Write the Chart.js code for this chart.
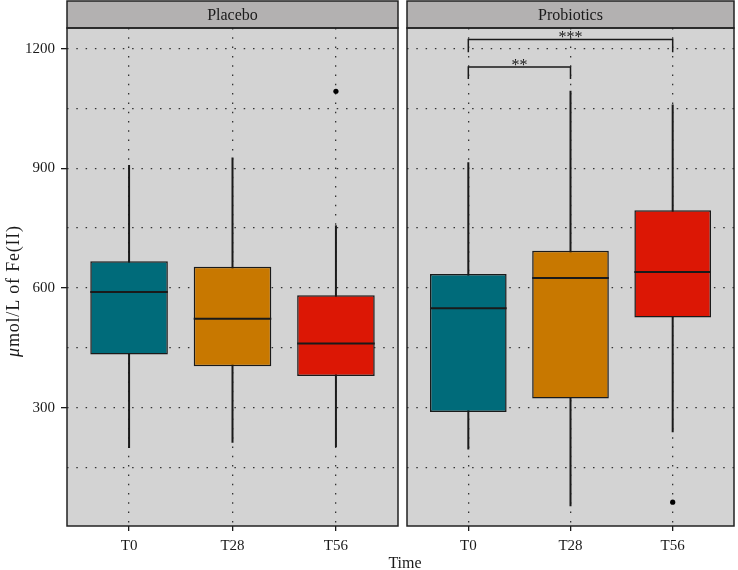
<!DOCTYPE html>
<html>
<head>
<meta charset="utf-8">
<script src="https://cdn.jsdelivr.net/npm/chart.js@4.4.0/dist/chart.umd.min.js"></script>
<style>
  html, body { margin: 0; padding: 0; background: #fff; }
  #wrap { position: relative; width: 738px; height: 570px; overflow: hidden; }
  #wrap canvas { position: absolute; top: 0; }
  #placebo { left: 0; }
  #probiotics { left: 403px; }
  #x-title {
    position: absolute; top: 554px; left: 405px; transform: translateX(-50%);
    font: 16px 'Liberation Serif', 'DejaVu Serif', serif; color: #1a1a1a; white-space: nowrap;
  }
</style>
</head>
<body>
<div id="wrap">
  <canvas id="placebo" width="402" height="570"></canvas>
  <canvas id="probiotics" width="335" height="570"></canvas>
  <div id="x-title">Time</div>
</div>
<script>
// Time points and box fill colours
const times = ['T0', 'T28', 'T56'];
const boxColors = ['#006b7a', '#c87800', '#dc1705'];

// y axis: labelled ticks and the minor grid between them
const yTicks = [300, 600, 900, 1200];
const yMinor = [150, 450, 750, 1050];

// Placebo: box-plot summaries per time point
const placeboLow = [199, 212, 201];
const placeboQ1 = [433, 404, 379];
const placeboMedian = [590, 523, 461];
const placeboQ3 = [667, 653, 582];
const placeboHigh = [908, 927, 757];
const placeboOutTime = ['T56'];
const placeboOutValue = [1093];

// Probiotics: box-plot summaries per time point
const probioticsLow = [195, 53, 238];
const probioticsQ1 = [289, 323, 526];
const probioticsMedian = [549, 625, 640];
const probioticsQ3 = [635, 693, 795];
const probioticsHigh = [915, 1094, 1060];
const probioticsOutTime = ['T56'];
const probioticsOutValue = [63];

// Significance brackets (Probiotics panel)
const sigFrom = ['T0', 'T0'];
const sigTo = ['T28', 'T56'];
const sigLine = [1154, 1223];
const sigTip = [1124, 1191];
const sigLabel = ['**', '***'];

const Y_MIN = 3.3;
const Y_MAX = 1251.6;
const FONT = "'Liberation Serif', 'DejaVu Serif', serif";
const INK = '#1a1a1a';
const GRID = '#333';

const panelPlugin = {
  id: 'panel',
  beforeDraw(chart, args, opts) {
    const { ctx, chartArea: a } = chart;
    ctx.save();
    ctx.fillStyle = '#d3d3d3';
    ctx.fillRect(a.left, a.top, a.right - a.left, a.bottom - a.top);
    ctx.restore();
  },
  beforeDatasetsDraw(chart, args, opts) {
    // whiskers, drawn under the boxes
    const { ctx, scales: { x, y } } = chart;
    ctx.save();
    ctx.strokeStyle = INK;
    ctx.lineWidth = 2;
    opts.low.forEach((lo, i) => {
      const px = x.getPixelForValue(i + 1);
      ctx.beginPath();
      ctx.moveTo(px, y.getPixelForValue(lo));
      ctx.lineTo(px, y.getPixelForValue(opts.high[i]));
      ctx.stroke();
    });
    ctx.restore();
  },
  afterDatasetsDraw(chart, args, opts) {
    const { ctx, scales: { x, y } } = chart;
    ctx.save();
    ctx.strokeStyle = INK;
    ctx.lineWidth = 2;
    // medians across each box
    chart.getDatasetMeta(0).data.forEach((bar, i) => {
      const py = y.getPixelForValue(opts.median[i]);
      ctx.beginPath();
      ctx.moveTo(bar.x - bar.width / 2, py);
      ctx.lineTo(bar.x + bar.width / 2, py);
      ctx.stroke();
    });
    // significance brackets
    ctx.lineWidth = 1.5;
    ctx.fillStyle = INK;
    ctx.font = `16px ${FONT}`;
    ctx.textAlign = 'center';
    ctx.textBaseline = 'alphabetic';
    opts.sig.forEach((s) => {
      const x1 = x.getPixelForValue(times.indexOf(s.from) + 1);
      const x2 = x.getPixelForValue(times.indexOf(s.to) + 1);
      const yl = y.getPixelForValue(s.line);
      const yt = y.getPixelForValue(s.tip);
      ctx.beginPath();
      ctx.moveTo(x1, yt);
      ctx.lineTo(x1, yl);
      ctx.lineTo(x2, yl);
      ctx.lineTo(x2, yt);
      ctx.stroke();
      ctx.fillText(s.label, (x1 + x2) / 2, yl + 3);
    });
    ctx.restore();
  },
  afterDraw(chart, args, opts) {
    const { ctx, chartArea: a } = chart;
    ctx.save();
    // strip header
    ctx.fillStyle = '#b3b1b1';
    ctx.fillRect(a.left, 1, a.right - a.left, a.top - 1);
    ctx.strokeStyle = '#222';
    ctx.lineWidth = 1.5;
    ctx.strokeRect(a.left, 1, a.right - a.left, a.top - 1);
    ctx.fillStyle = INK;
    ctx.font = `16px ${FONT}`;
    ctx.textAlign = 'center';
    ctx.textBaseline = 'middle';
    ctx.fillText(opts.name, (a.left + a.right) / 2, (a.top + 1) / 2 + 1);
    // panel frame
    ctx.strokeRect(a.left, a.top, a.right - a.left, a.bottom - a.top);

    // y axis title with italic mu
    if (opts.yTitle) {
      ctx.translate(14, 291);
      ctx.rotate(-Math.PI / 2);
      ctx.textAlign = 'left';
      ctx.letterSpacing = '0.8px';
      const mu = 'μ', rest = 'mol/L of Fe(II)';
      ctx.font = `italic 18px ${FONT}`;
      const w1 = ctx.measureText(mu).width;
      ctx.font = `18px ${FONT}`;
      const w2 = ctx.measureText(rest).width;
      const start = -(w1 + w2) / 2;
      ctx.font = `italic 18px ${FONT}`;
      ctx.fillText(mu, start, 0);
      ctx.font = `18px ${FONT}`;
      ctx.fillText(rest, start + w1, 0);
    }
    ctx.restore();
  },
};

function buildPanel(canvasId, name, low, q1, median, q3, high, outTime, outValue, sig, showY) {
  const tickFont = { family: FONT, size: 15 };
  return new Chart(document.getElementById(canvasId), {
    type: 'bar',
    data: {
      datasets: [
        {
          data: times.map((t, i) => ({ x: i + 1, y: [q1[i], q3[i]] })),
          backgroundColor: boxColors,
          borderColor: INK,
          borderWidth: 1.5,
          borderSkipped: false,
          categoryPercentage: 1,
          barPercentage: 0.75,
        },
        {
          type: 'scatter',
          data: outTime.map((t, i) => ({ x: times.indexOf(t) + 1, y: outValue[i] })),
          backgroundColor: '#000',
          borderWidth: 0,
          pointRadius: 2.6,
        },
      ],
    },
    options: {
      responsive: false,
      animation: false,
      layout: { padding: { top: 28, left: showY ? 0 : 2, right: showY ? 1 : 0.5 } },
      plugins: {
        legend: { display: false },
        tooltip: { enabled: false },
        panel: { name, low, median, high, sig, yTitle: showY },
      },
      scales: {
        x: {
          type: 'linear',
          offset: false,
          min: 0.4,
          max: 3.6,
          afterBuildTicks: (s) => { s.ticks = times.map((t, i) => ({ value: i + 1 })); },
          afterFit: (s) => { s.height = 44; },
          ticks: { callback: (v) => times[v - 1], font: tickFont, color: INK, padding: 6 },
          grid: {
            offset: false, color: GRID, lineWidth: 1.3,
            tickLength: 5, tickColor: INK, tickWidth: 1.3, tickBorderDash: [],
          },
          border: { display: false, dash: [1.5, 7.8] },
        },
        y: {
          min: Y_MIN,
          max: Y_MAX,
          afterBuildTicks: (s) => {
            s.ticks = yMinor.concat(yTicks).sort((a, b) => a - b).map((v) => ({ value: v }));
          },
          afterFit: (s) => { s.width = showY ? 67 : 0; },
          ticks: {
            display: showY,
            callback: (v) => (yTicks.includes(v) ? v : ''),
            font: tickFont,
            color: INK,
            padding: 6,
          },
          grid: {
            color: GRID,
            lineWidth: 1.3,
            drawTicks: showY,
            tickLength: 6,
            tickWidth: 1.3,
            tickBorderDash: [],
            tickColor: (c) => (c.tick && yTicks.includes(c.tick.value) ? INK : 'rgba(0,0,0,0)'),
          },
          border: { display: false, dash: [1.5, 7.8] },
        },
      },
    },
    plugins: [panelPlugin],
  });
}

const noSig = [];
const probioticsSig = sigFrom.map((f, i) => ({
  from: f, to: sigTo[i], line: sigLine[i], tip: sigTip[i], label: sigLabel[i],
}));

buildPanel('placebo', 'Placebo', placeboLow, placeboQ1, placeboMedian, placeboQ3, placeboHigh,
  placeboOutTime, placeboOutValue, noSig, true);
buildPanel('probiotics', 'Probiotics', probioticsLow, probioticsQ1, probioticsMedian, probioticsQ3, probioticsHigh,
  probioticsOutTime, probioticsOutValue, probioticsSig, false);
</script>
</body>
</html>
